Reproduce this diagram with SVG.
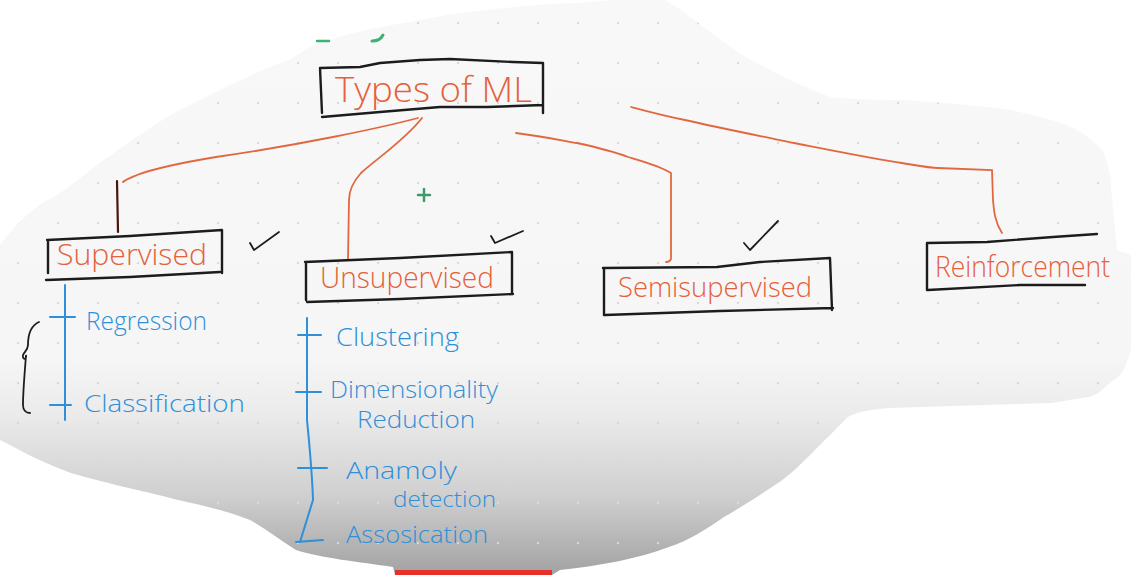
<svg xmlns="http://www.w3.org/2000/svg" width="1131" height="575" viewBox="0 0 1131 575">
  <defs>
    <linearGradient id="bg" gradientUnits="userSpaceOnUse" x1="0" y1="0" x2="0" y2="575">
      <stop offset="0" stop-color="#f8f8f8"/>
      <stop offset="0.62" stop-color="#f6f6f6"/>
      <stop offset="0.72" stop-color="#ebebeb"/>
      <stop offset="0.86" stop-color="#d0d0d0"/>
      <stop offset="1" stop-color="#a2a2a2"/>
    </linearGradient>
    <pattern id="dots" patternUnits="userSpaceOnUse" x="0" y="0" width="40" height="40">
      <circle cx="18" cy="23" r="1.2" fill="#d9d9d9"/>
    </pattern>
    <clipPath id="blobClip">
      <path id="blobPath" d="M0,245 C15,225 35,205 54,197 C80,180 95,165 108,157 C140,135 160,120 180,110 C230,85 260,70 289,60 L310,47 C340,35 370,28 404,23 L447,15 C500,8 540,4 577,3 L613,0 L665,0 C680,8 700,25 721,40 C740,55 755,62 765,67 C785,78 800,85 830,97 C860,100 880,100 902,100 C950,103 990,107 1010,110 C1050,118 1070,125 1082,133 C1095,142 1104,150 1105,157 C1110,170 1111,180 1111,187 C1113,210 1116,235 1117,250 L1131,255 L1131,350 C1125,370 1120,378 1113,380 C1100,392 1095,396 1088,397 L1052,403 L888,408 C865,410 855,413 848,417 C835,430 825,440 815,450 C800,465 790,475 778,483 C760,495 740,508 724,517 C705,530 690,540 669,547 C640,558 600,566 560,570 L552,575 L395,575 L393,567 C360,562 320,558 296,550 C280,540 265,528 250,520 C225,510 200,505 178,500 C140,490 100,482 71,473 C40,462 20,450 0,440 Z"/>
    </clipPath>
  </defs>
  <style>
    .box { fill: none; stroke: #1c1c1c; stroke-width: 2.4; stroke-linecap: round; stroke-linejoin: round; }
    .con { fill: none; stroke: #e2673f; stroke-width: 1.8; stroke-linecap: round; }
    .chk { fill: none; stroke: #1c1c1c; stroke-width: 1.8; stroke-linecap: round; stroke-linejoin: round; }
    .blu { fill: none; stroke: #2f8fd8; stroke-width: 2; stroke-linecap: round; stroke-linejoin: round; }
    .ot { font-family: "Open Sans", "Liberation Sans", sans-serif; font-weight: 300; fill: #e5603b; }
    .bt { font-family: "Open Sans", "Liberation Sans", sans-serif; font-weight: 300; fill: #2f8fd8; }
  </style>

  <rect width="1131" height="575" fill="#ffffff"/>
  <g id="background">
    <rect width="1131" height="575" fill="url(#bg)" clip-path="url(#blobClip)"/>
    <rect width="1131" height="575" fill="url(#dots)" clip-path="url(#blobClip)"/>
    <path d="M317,41 L329,41" stroke="#3cb371" stroke-width="2.5" stroke-linecap="round" fill="none"/>
    <path d="M372,41 Q380,41 383,35" stroke="#3cb371" stroke-width="3" stroke-linecap="round" fill="none"/>
    <path d="M424,189 L424,201 M418,195 L430,195" stroke="#3f9a6a" stroke-width="2.5" stroke-linecap="round"/>
    <rect x="395" y="570" width="157" height="5" fill="#e8302a"/>
  </g>

  <g id="connectors">
    <path class="con" d="M418,118 C380,128 300,145 216,157 C180,163 150,170 137,175 C130,178 125,180 123,182"/>
    <path d="M117,181 L118,232" fill="none" stroke="#4a1510" stroke-width="2.2" stroke-linecap="round"/>
    <path class="con" d="M422,118 C405,140 375,160 361,173 C352,183 349,192 349,200 L348,260"/>
    <path class="con" d="M516,133 C540,136 560,140 577,143 C600,148 615,152 628,157 C645,162 660,166 671,173 L671,259 Q670,262 666,262"/>
    <path class="con" d="M631,107 C650,112 665,116 685,120 C720,128 760,136 794,143 C840,152 880,160 902,163 C920,166 930,168 938,168 L992,170 L993,200 C994,212 995,222 1002,233"/>
  </g>

  <g id="checks">
    <path class="chk" d="M250,243 L254,250 L279,232"/>
    <path class="chk" d="M491,236 L495,243 L523,231"/>
    <path class="chk" d="M744,243 L750,250 L778,221"/>
  </g>

  <g id="node-types">
    <path class="box" d="M320,68 L360,67 L380,63 L420,60 L450,59 L513,62 L543,63 L543,113 M320,68 L322,113 M322,117 L380,112 L440,107 L487,107 L543,105"/>
    <text class="ot" x="335" y="102" font-size="34" textLength="197" lengthAdjust="spacingAndGlyphs">Types of ML</text>
  </g>

  <g id="node-supervised">
    <path class="box" d="M47,240 L130,236 L222,230 L222,273 M48,240 L48,273 M46,280 L130,277 L220,272"/>
    <text class="ot" x="57" y="265" font-size="30" textLength="150" lengthAdjust="spacingAndGlyphs">Supervised</text>
  </g>

  <g id="node-unsupervised">
    <path class="box" d="M305,262 L400,258 L512,252 L512,294 M306,262 L306,300 M307,302 L400,299 L513,294"/>
    <text class="ot" x="320" y="288" font-size="30" textLength="174" lengthAdjust="spacingAndGlyphs">Unsupervised</text>
  </g>

  <g id="node-semisupervised">
    <path class="box" d="M603,268 L717,267 L760,262 L830,258 L832,310 M604,268 L604,315 M605,315 L720,311 L833,308"/>
    <text class="ot" x="618" y="297" font-size="28" textLength="194" lengthAdjust="spacingAndGlyphs">Semisupervised</text>
  </g>

  <g id="node-reinforcement">
    <path class="box" d="M927,243 L987,242 L1053,237 L1097,234 M927,243 L927,290 M928,290 L1020,285 L1085,285"/>
    <text class="ot" x="935" y="277" font-size="29" textLength="175" lengthAdjust="spacingAndGlyphs">Reinforcement</text>
  </g>

  <g id="supervised-list">
    <path class="blu" d="M65,285 L65,420 M50,317 L75,317 M50,405 L71,405"/>
    <path d="M39,322 C30,326 28,335 28,345 C28,350 24,352 23,355 C22,360 27,360 26,355 C25,370 23,390 23,405 C23,410 26,413 30,413" fill="none" stroke="#1c1c1c" stroke-width="1.8" stroke-linecap="round"/>
    <text class="bt" x="86" y="330" font-size="26" textLength="121" lengthAdjust="spacingAndGlyphs">Regression</text>
    <text class="bt" x="84" y="412" font-size="24" textLength="161" lengthAdjust="spacingAndGlyphs">Classification</text>
  </g>

  <g id="unsupervised-list">
    <path class="blu" d="M307,318 L307,420 Q312,470 313,500 L300,542 M296,542 L323,540 M298,335 L321,335 M296,392 L321,392 M298,468 L327,468"/>
    <text class="bt" x="336" y="346" font-size="25" textLength="123" lengthAdjust="spacingAndGlyphs">Clustering</text>
    <text class="bt" x="330" y="398" font-size="24" textLength="168" lengthAdjust="spacingAndGlyphs">Dimensionality</text>
    <text class="bt" x="357" y="428" font-size="24" textLength="118" lengthAdjust="spacingAndGlyphs">Reduction</text>
    <text class="bt" x="346" y="479" font-size="24" textLength="111" lengthAdjust="spacingAndGlyphs">Anamoly</text>
    <text class="bt" x="393" y="507" font-size="22" textLength="103" lengthAdjust="spacingAndGlyphs">detection</text>
    <text class="bt" x="346" y="543" font-size="24" textLength="142" lengthAdjust="spacingAndGlyphs">Assosication</text>
  </g>
</svg>
